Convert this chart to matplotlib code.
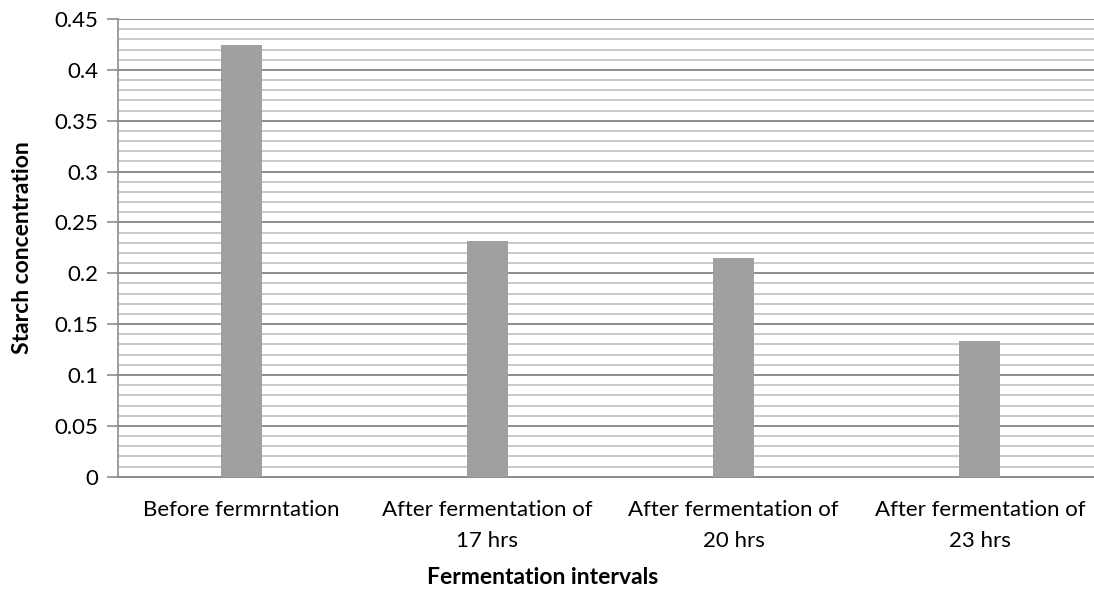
import numpy as np
import matplotlib.pyplot as plt
from matplotlib.ticker import MultipleLocator

# Data
categories = [
    "Before fermrntation",
    "After fermentation of\n17 hrs",
    "After fermentation of\n20 hrs",
    "After fermentation of\n23 hrs",
]
starch = [0.4245, 0.232, 0.2155, 0.1335]
yticks = [0, 0.05, 0.1, 0.15, 0.2, 0.25, 0.3, 0.35, 0.4, 0.45]
ytick_labels = ["0", "0.05", "0.1", "0.15", "0.2", "0.25", "0.3", "0.35", "0.4", "0.45"]

plt.rcParams["font.family"] = ["Lato", "DejaVu Sans"]

fig = plt.figure(figsize=(10.94, 5.9), dpi=100)
# plot area runs a little past the right edge, like the original
ax = fig.add_axes([118 / 1094, 1 - 476.7 / 590, 985 / 1094, 457.7 / 590])

x = np.arange(len(categories))
ax.bar(x, starch, width=0.167, color="#A0A0A0", zorder=3)

ax.set_xlim(-0.5, len(categories) - 0.5)
ax.set_ylim(0, 0.45)
ax.yaxis.set_minor_locator(MultipleLocator(0.01))
ax.set_yticks(yticks)
ax.set_yticklabels(ytick_labels)

# gridlines
ax.grid(which="minor", axis="y", color="#C0C0C0", linewidth=1.2, zorder=0)
ax.grid(which="major", axis="y", color="#8C8C8C", linewidth=1.4, zorder=1)

ax.set_xticks(x)
ax.set_xticklabels(categories, fontsize=16, linespacing=1.65)
ax.tick_params(axis="x", length=0, pad=17)
ax.tick_params(axis="y", which="major", length=8, color="#8C8C8C", width=1.2,
               labelsize=16, pad=6)
ax.tick_params(axis="y", which="minor", length=0)

for s in ["top", "right"]:
    ax.spines[s].set_visible(False)
ax.spines["left"].set_color("#8C8C8C")
ax.spines["bottom"].set_color("#8C8C8C")
ax.spines["left"].set_linewidth(1.2)
ax.spines["bottom"].set_linewidth(1.4)

fig.text(543 / 1094, 1 - 578 / 590, "Fermentation intervals", fontsize=16.5,
         fontweight="bold", ha="center", va="center")
fig.text(23 / 1094, 1 - 248 / 590, "Starch concentration", fontsize=16.5,
         fontweight="bold", ha="center", va="center", rotation=90)

fig.savefig("out.png", dpi=100)
